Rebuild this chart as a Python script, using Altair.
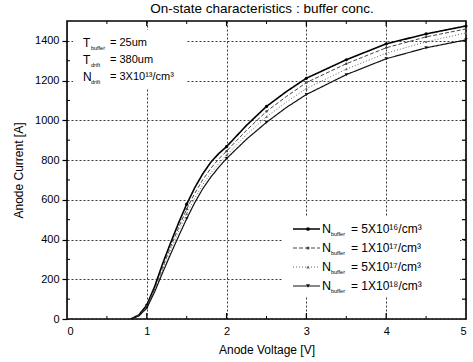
import altair as alt
import pandas as pd

# ---- data ----
voltage = [0.8, 0.9, 1.0, 1.1, 1.2, 1.3, 1.4, 1.5, 1.6, 1.7, 1.8, 1.9, 2.0, 2.25, 2.5, 2.75, 3.0, 3.5, 4.0, 4.5, 5.0]
i_5e16 = [0, 20, 70, 165, 280, 385, 485, 578, 660, 730, 788, 832, 868, 975, 1070, 1145, 1212, 1305, 1385, 1435, 1475]
i_1e17 = [0, 18, 65, 152, 262, 365, 462, 553, 632, 700, 757, 805, 845, 950, 1045, 1120, 1190, 1285, 1365, 1420, 1460]
i_5e17 = [0, 16, 60, 145, 250, 348, 442, 530, 608, 676, 733, 782, 825, 928, 1018, 1092, 1160, 1258, 1338, 1395, 1440]
i_1e18 = [0, 15, 55, 138, 235, 328, 418, 505, 585, 655, 713, 763, 808, 905, 990, 1065, 1130, 1230, 1310, 1365, 1405]
marker_voltages = [1.0, 1.5, 2.0, 2.5, 3.0, 3.5, 4.0, 4.5, 5.0]

series_values = [i_5e16, i_1e17, i_5e17, i_1e18]
series_labels = ["= 5X10¹⁶/cm³", "= 1X10¹⁷/cm³", "= 5X10¹⁷/cm³", "= 1X10¹⁸/cm³"]

x_ticks = [0, 1, 2, 3, 4, 5]
y_ticks = [0, 200, 400, 600, 800, 1000, 1200, 1400]
x_minor = [0.5, 1.5, 2.5, 3.5, 4.5]
x_major_inner = [1, 2, 3, 4]
y_minor = [100, 300, 500, 700, 900, 1100, 1300]
y_all_inner = [100, 200, 300, 400, 500, 600, 700, 800, 900, 1000, 1100, 1200, 1300, 1400]

annot_main = ["T", "T", "N"]
annot_sub = ["buffer", "drift", "drift"]
annot_val = ["= 25um", "= 380um", "= 3X10¹³/cm³"]

# ---- styles ----
FONT = "Liberation Sans"
W, H = 399, 298
styles = [
    dict(dash=[1, 0], width=1.6, color="#000000", shape="circle", size=10),
    dict(dash=[4, 2], width=1.0, color="#444444", shape="circle", size=6),
    dict(dash=[1, 2], width=1.0, color="#666666", shape="triangle-up", size=8),
    dict(dash=[1, 0], width=1.2, color="#111111", shape="triangle-down", size=12),
]

xs = alt.Scale(domain=[0, 5], nice=False, zero=False)
ys = alt.Scale(domain=[0, 1500], nice=False)

layers = []
base_df = pd.DataFrame({"v": voltage, "i": i_5e16})
one = base_df.head(1)

axes_layer = alt.Chart(base_df).mark_point(opacity=0).encode(
    x=alt.X("v:Q", scale=xs, axis=alt.Axis(
        values=x_ticks, title="Anode Voltage [V]", format="d", ticks=False, domain=False,
        grid=True, gridColor="#222222", gridDash=[2, 2], gridWidth=0.9,
        labelFontSize=11, labelPadding=6, labelFont=FONT, labelColor="#000",
        titleFont=FONT, titleFontSize=12, titleFontWeight="normal", titlePadding=8, titleColor="#000")),
    y=alt.Y("i:Q", scale=ys, axis=alt.Axis(
        values=y_ticks, title="Anode Current [A]", format="d", ticks=True, tickSize=5, tickColor="#000",
        tickWidth=1.2, domain=False,
        grid=True, gridColor="#222222", gridDash=[2, 2], gridWidth=0.9,
        labelFontSize=11, labelPadding=3, labelFont=FONT, labelColor="#000",
        titleFont=FONT, titleFontSize=12, titleFontWeight="normal", titlePadding=9, titleColor="#000")),
)
layers.append(axes_layer)

# white boxes behind annotation and legend (grid interrupted)
layers.append(alt.Chart(one).mark_rect(color="white").encode(
    x=alt.value(6), x2=alt.value(120), y=alt.value(9), y2=alt.value(67)))
layers.append(alt.Chart(one).mark_rect(color="white").encode(
    x=alt.value(216), x2=alt.value(393), y=alt.value(195), y2=alt.value(275)))

def xticks(vals, y1, y2, w=1.0):
    return alt.Chart(pd.DataFrame({"v": vals})).mark_rule(color="#000", strokeWidth=w).encode(
        x=alt.X("v:Q", scale=xs), y=alt.value(y1), y2=alt.value(y2))

def yticks(vals, x1, x2, w=1.0):
    return alt.Chart(pd.DataFrame({"i": vals})).mark_rule(color="#000", strokeWidth=w).encode(
        y=alt.Y("i:Q", scale=ys), x=alt.value(x1), x2=alt.value(x2))

layers += [
    xticks(x_minor, H, H - 3),
    xticks(x_major_inner, H, H - 6, 1.3),
    xticks(x_minor, 0, 3),
    xticks(x_major_inner, 0, 5, 1.3),
    yticks(y_minor, 0, 3),
    yticks(y_all_inner, W, W - 4, 1.2),
]

for vals, st in zip(series_values, styles):
    df = pd.DataFrame({"v": voltage, "i": vals})
    layers.append(alt.Chart(df).mark_line(
        color=st["color"], strokeWidth=st["width"], strokeDash=st["dash"]).encode(
        x=alt.X("v:Q", scale=xs), y=alt.Y("i:Q", scale=ys)))
    mdf = df[df["v"].isin(marker_voltages)]
    layers.append(alt.Chart(mdf).mark_point(
        shape=st["shape"], size=st["size"], filled=True, color=st["color"], opacity=1).encode(
        x=alt.X("v:Q", scale=xs), y=alt.Y("i:Q", scale=ys)))

layers.append(alt.Chart(one).mark_text(
    text="On-state characteristics : buffer conc.", font=FONT, fontSize=13.5, align="center",
    baseline="middle", color="#000").encode(x=alt.value(195), y=alt.value(-12)))

for k, (m, s, v) in enumerate(zip(annot_main, annot_sub, annot_val)):
    py = 22 + k * 17
    layers.append(alt.Chart(one).mark_text(
        text=m, font=FONT, fontSize=12, align="left", baseline="middle", color="#000").encode(
        x=alt.value(16), y=alt.value(py)))
    layers.append(alt.Chart(one).mark_text(
        text=s, font=FONT, fontSize=5.5, align="left", baseline="middle", color="#000").encode(
        x=alt.value(24), y=alt.value(py + 5)))
    layers.append(alt.Chart(one).mark_text(
        text=v, font=FONT, fontSize=11, align="left", baseline="middle", color="#000").encode(
        x=alt.value(43), y=alt.value(py)))

for k, (lab, st) in enumerate(zip(series_labels, styles)):
    py = 208 + k * 19
    layers.append(alt.Chart(one).mark_rule(
        color=st["color"], strokeWidth=st["width"], strokeDash=st["dash"]).encode(
        x=alt.value(226), x2=alt.value(253), y=alt.value(py)))
    layers.append(alt.Chart(one).mark_point(
        shape=st["shape"], size=st["size"] + 4, filled=True, color=st["color"], opacity=1).encode(
        x=alt.value(241), y=alt.value(py)))
    layers.append(alt.Chart(one).mark_text(
        text="N", font=FONT, fontSize=12.5, align="left", baseline="middle", color="#000").encode(
        x=alt.value(255), y=alt.value(py)))
    layers.append(alt.Chart(one).mark_text(
        text="buffer", font=FONT, fontSize=5.5, align="left", baseline="middle", color="#000").encode(
        x=alt.value(264), y=alt.value(py + 5)))
    layers.append(alt.Chart(one).mark_text(
        text=lab, font=FONT, fontSize=12, align="left", baseline="middle", color="#000").encode(
        x=alt.value(284), y=alt.value(py)))

chart = alt.layer(*layers).properties(
    width=W, height=H,
    autosize=alt.AutoSizeParams(type="none"),
    padding={"left": 67, "top": 21, "right": 7, "bottom": 43},
    background="white",
).configure_view(stroke="#000", strokeWidth=1.6)

chart.save("out.html", embed_options={"renderer": "svg", "actions": False})
